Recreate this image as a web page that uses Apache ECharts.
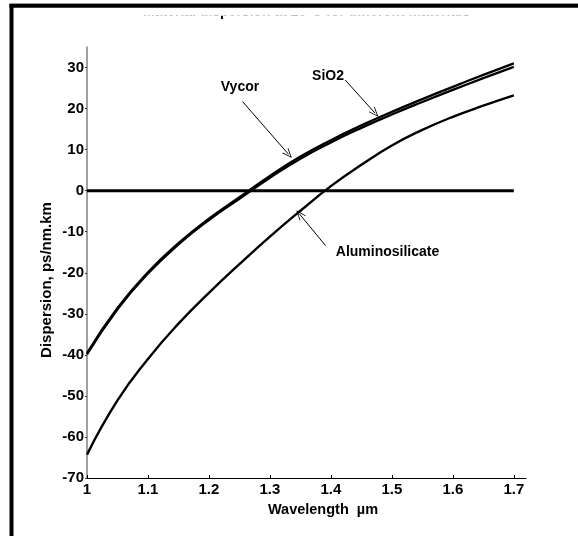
<!DOCTYPE html>
<html><head><meta charset="utf-8">
<script src="https://cdn.jsdelivr.net/npm/echarts@6/dist/echarts.min.js"></script>
<style>html,body{margin:0;padding:0;background:#fff}#c{width:578px;height:536px}</style>
</head><body><div id="c"></div>
<script>
// ---- data ----
const titleText = 'Material dispersion at 20°C for different materials';
const xAxisName = 'Wavelength  µm';
const yAxisName = 'Dispersion, ps/nm.km';
const wavelength = [1.00, 1.05, 1.10, 1.15, 1.20, 1.25, 1.30, 1.35, 1.40, 1.45, 1.50, 1.55, 1.60, 1.65, 1.70];
const sio2 = [-39.6, -28.6, -19.9, -12.8, -6.8, -1.6, 3.6, 8.3, 12.3, 15.9, 19.2, 22.3, 25.3, 28.2, 31.0];
const vycor = [-39.9, -28.9, -20.2, -13.1, -7.15, -2.0, 3.15, 7.8, 11.75, 15.3, 18.55, 21.6, 24.55, 27.4, 30.15];
const aluminosilicate = [-64.3, -51.1, -41.0, -32.4, -24.9, -17.9, -11.2, -4.9, 1.1, 6.3, 11.0, 14.8, 18.0, 20.7, 23.2];
const zeroLineX = [1.0, 1.7];
const zeroLineY = [0, 0];
const xTicks = [1, 1.1, 1.2, 1.3, 1.4, 1.5, 1.6, 1.7];
const yTicks = [-70, -60, -50, -40, -30, -20, -10, 0, 10, 20, 30];
const annotationNames = ['Vycor', 'SiO2', 'Aluminosilicate'];
const annotationFrom = [[1.2552, 21.68], [1.4234, 26.97], [1.3913, -13.40]];
const annotationTo = [[1.3306, 8.85], [1.4724, 18.9], [1.3486, -5.7]];

const FONT = '"Liberation Sans", Arial, sans-serif';
const pairs = ys => wavelength.map((x, i) => [x, ys[i]]);
const arrowPath = 'path://M5,0 L10,10 L8.9,10 L5,2.2 L1.1,10 L0,10 Z';
const arrow = i => ({
  silent: true, animation: false,
  symbol: ['none', arrowPath], symbolSize: [8, 10],
  lineStyle: { color: '#000', width: 1, type: 'solid' },
  label: { show: false },
  data: [[{ coord: annotationFrom[i] }, { coord: annotationTo[i] }]]
});

const chart = echarts.init(document.getElementById('c'), null, { renderer: 'canvas' });
chart.setOption({
  animation: false,
  backgroundColor: '#fff',
  grid: { left: 87, right: 52, top: 47, bottom: 58, containLabel: false },
  xAxis: {
    type: 'value', min: 1, max: 1.72,
    axisLine: { show: true, onZero: false, lineStyle: { color: '#000', width: 1.2 } },
    axisTick: { show: true, inside: true, length: 3, customValues: xTicks, lineStyle: { color: '#000' } },
    axisLabel: { customValues: xTicks, margin: 4, color: '#000', fontFamily: FONT, fontWeight: 'bold', fontSize: 15,
      formatter: v => String(v) },
    splitLine: { show: false }
  },
  yAxis: {
    type: 'value', min: -70, max: 35,
    axisLine: { show: true, onZero: false, lineStyle: { color: '#808080', width: 1.5 } },
    axisTick: { show: true, inside: false, length: 2, customValues: yTicks, lineStyle: { color: '#333' } },
    axisLabel: { customValues: yTicks, margin: 3, color: '#000', fontFamily: FONT, fontWeight: 'bold', fontSize: 15 },
    splitLine: { show: false }
  },
  series: [
    { name: 'zero', type: 'line', data: zeroLineX.map((x, i) => [x, zeroLineY[i]]), showSymbol: false,
      lineStyle: { color: '#000', width: 3 }, z: 3 },
    { name: 'SiO2', type: 'line', data: pairs(sio2), smooth: true, showSymbol: false,
      lineStyle: { color: '#000', width: 2.3 }, markLine: arrow(1) },
    { name: 'Vycor', type: 'line', data: pairs(vycor), smooth: true, showSymbol: false,
      lineStyle: { color: '#000', width: 2.3 }, markLine: arrow(0) },
    { name: 'Aluminosilicate', type: 'line', data: pairs(aluminosilicate), smooth: true, showSymbol: false,
      lineStyle: { color: '#000', width: 2.4 }, markLine: arrow(2) }
  ],
  graphic: [
    { type: 'text', x: 306.5, y: 12.5, z: 10,
      style: { text: titleText, fill: '#000', font: 'bold 14px ' + FONT, align: 'center', verticalAlign: 'middle' } },
    { type: 'rect', x: 14, y: 7, z: 11, shape: { width: 564, height: 8.8 }, style: { fill: '#fff' } },
    { type: 'rect', x: 9.5, y: 3, z: 12, shape: { width: 568.5, height: 1.2 }, style: { fill: '#999' } },
    { type: 'rect', x: 9.5, y: 4, z: 12, shape: { width: 568.5, height: 3.8 }, style: { fill: '#000' } },
    { type: 'rect', x: 9.5, y: 4, z: 12, shape: { width: 4, height: 532 }, style: { fill: '#000' } },
    { type: 'text', x: 323, y: 510, z: 10,
      style: { text: xAxisName, fill: '#000', font: 'bold 14.5px ' + FONT, align: 'center', verticalAlign: 'middle' } },
    { type: 'text', x: 47, y: 280, rotation: Math.PI / 2, z: 10,
      style: { text: yAxisName, fill: '#000', font: 'bold 15px ' + FONT, align: 'center', verticalAlign: 'middle' } },
    { type: 'text', x: 240, y: 87, z: 10,
      style: { text: annotationNames[0], fill: '#000', font: 'bold 14px ' + FONT, align: 'center', verticalAlign: 'middle' } },
    { type: 'text', x: 328, y: 76, z: 10,
      style: { text: annotationNames[1], fill: '#000', font: 'bold 14px ' + FONT, align: 'center', verticalAlign: 'middle' } },
    { type: 'text', x: 387.5, y: 252, z: 10,
      style: { text: annotationNames[2], fill: '#000', font: 'bold 14px ' + FONT, align: 'center', verticalAlign: 'middle' } }
  ]
});
</script></body></html>
